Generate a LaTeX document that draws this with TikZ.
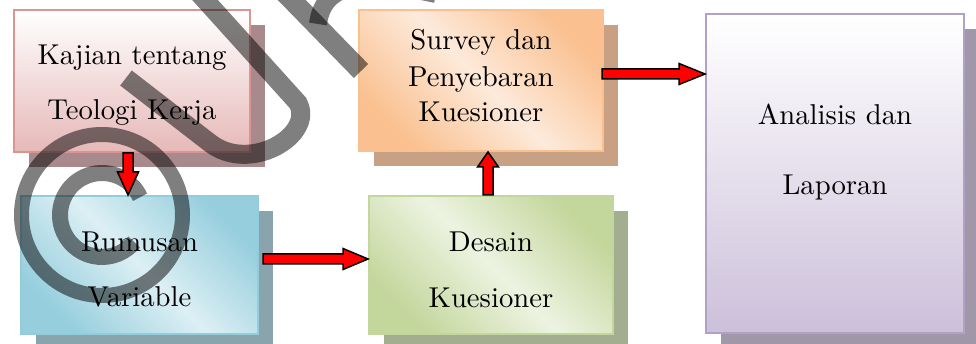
\documentclass[tikz,border=0pt]{standalone}
\usepackage{fontspec}
\newfontfamily\lblfont{lmroman10-regular.otf}
\usetikzlibrary{calc,shadows}

% box colours: border, fill(s), shadow
\definecolor{kBorder}{HTML}{D99594}
\definecolor{kFill}{HTML}{E6B9B8}
\definecolor{kShadow}{HTML}{A88A8C}
\definecolor{rBorder}{HTML}{92CDDC}
\definecolor{rDark}{HTML}{96CEDD}
\definecolor{rLight}{HTML}{DCEFF4}
\definecolor{rShadow}{HTML}{8AA4AD}
\definecolor{sBorder}{HTML}{FAC08F}
\definecolor{sDark}{HTML}{FAC08F}
\definecolor{sLight}{HTML}{FDEADB}
\definecolor{sShadow}{HTML}{C8A084}
\definecolor{dBorder}{HTML}{C3D69B}
\definecolor{dDark}{HTML}{C3D69B}
\definecolor{dLight}{HTML}{EDF3E1}
\definecolor{dShadow}{HTML}{A3AD90}
\definecolor{aBorder}{HTML}{B2A1C7}
\definecolor{aFill}{HTML}{CCC0DA}
\definecolor{aShadow}{HTML}{A098A8}
\definecolor{arrowRed}{HTML}{FF0000}

% block arrow between two named points: from, to, head length
\newcommand\blockarrow[3]{%
  \coordinate (ba-h) at ($(#2)!#3pt!(#1)$);
  \draw[arrowbody] ($(#1)!5pt!90:(#2)$) -- ($(ba-h)!5pt!90:(#2)$)
    -- ($(ba-h)!10.5pt!90:(#2)$) -- (#2) -- ($(ba-h)!10.5pt!-90:(#2)$)
    -- ($(ba-h)!5pt!-90:(#2)$) -- ($(#1)!5pt!-90:(#2)$) -- cycle;
}

\tikzset{
  flowbox/.style={anchor=north west, inner sep=0pt, line width=2pt},
  boxshadow/.style={general shadow={fill=#1, shadow xshift=15pt, shadow yshift=-15pt}},
  diagfill/.style n args={2}{top color=#1, bottom color=#1, middle color=#2, shading angle=-45},
  lbl/.style={anchor=base, inner sep=0pt, font=\lblfont\fontsize{28.7}{34}\selectfont},
  arrowbody/.style={fill=arrowRed, draw=black, line width=1.5pt, line join=miter},
  wm/.style={draw=black, draw opacity=0.5}
}

\begin{document}
\begin{tikzpicture}[x=1pt, y=-1pt]
\useasboundingbox (0,0) rectangle (976,344);
\clip (0,0) rectangle (976,344);

% boxes
\node[flowbox, boxshadow=kShadow, draw=kBorder, top color=white, bottom color=kFill,
      minimum width=236pt, minimum height=142pt] (k) at (13,9) {};
\node[flowbox, boxshadow=rShadow, draw=rBorder, diagfill={rDark}{rLight},
      minimum width=237pt, minimum height=138pt] (r) at (20,195) {};
\node[flowbox, boxshadow=sShadow, draw=sBorder, diagfill={sDark}{sLight},
      minimum width=244pt, minimum height=141pt] (s) at (358,9) {};
\node[flowbox, boxshadow=dShadow, draw=dBorder, diagfill={dDark}{dLight},
      minimum width=244pt, minimum height=138pt] (d) at (368,195) {};
\node[flowbox, boxshadow=aShadow, draw=aBorder, top color=white, bottom color=aFill,
      minimum width=258pt, minimum height=319pt] (a) at (705,13) {};

% watermark strokes
\coordinate (wmc) at (102,215);
\draw[wm, line width=15pt] (wmc) circle[radius=80.5];
\draw[wm, line width=16pt] ([shift={(-25:42)}]wmc) arc[start angle=-25, end angle=-320, radius=42];
\draw[wm, line width=19pt] (126,78) -- (210,143) .. controls (250,174) and (315,135) .. (298,103) -- (196,-10);
\draw[wm, line width=20pt] (280,-12) -- (361,71);
\draw[wm, line width=18pt] (318,24) .. controls (324,-25) and (380,-18) .. (436,-6);

% connectors
\coordinate (a1s) at ([xshift=-4pt]k.south);
\coordinate (a1e) at (a1s |- r.north);
\coordinate (a2s) at ([xshift=4pt, yshift=6pt]r.east);
\coordinate (a2e) at (a2s -| d.west);
\coordinate (a3s) at ([xshift=-3pt]d.north);
\coordinate (a3e) at (a3s |- s.south);
\coordinate (a4s) at ([xshift=-2pt, yshift=6.5pt]s.east);
\coordinate (a4e) at (a4s -| a.west);
\blockarrow{a1s}{a1e}{23}
\blockarrow{a2s}{a2e}{25}
\blockarrow{a3s}{a3e}{15}
\blockarrow{a4s}{a4e}{26}

% labels
\node[lbl] (k1) at ($(k.north)+(0,56)$) {Kajian tentang};
\node[lbl] (k2) at ($(k.north)+(0,111)$) {Teologi Kerja};
\node[lbl] (r1) at ($(r.north)+(0,57)$) {Rumusan};
\node[lbl] (r2) at ($(r.north)+(0,111)$) {Variable};
\node[lbl] (s1) at ($(s.north)+(0,41)$) {Survey dan};
\node[lbl] (s2) at ($(s.north)+(0,78)$) {Penyebaran};
\node[lbl] (s3) at ($(s.north)+(0,113)$) {Kuesioner};
\node[lbl] (d1) at ($(d.north)+(0,57)$) {Desain};
\node[lbl] (d2) at ($(d.north)+(0,112)$) {Kuesioner};
\node[lbl] (a1) at ($(a.north)+(0,112)$) {Analisis dan};
\node[lbl] (a2) at ($(a.north)+(0,182)$) {Laporan};
\end{tikzpicture}
\end{document}
